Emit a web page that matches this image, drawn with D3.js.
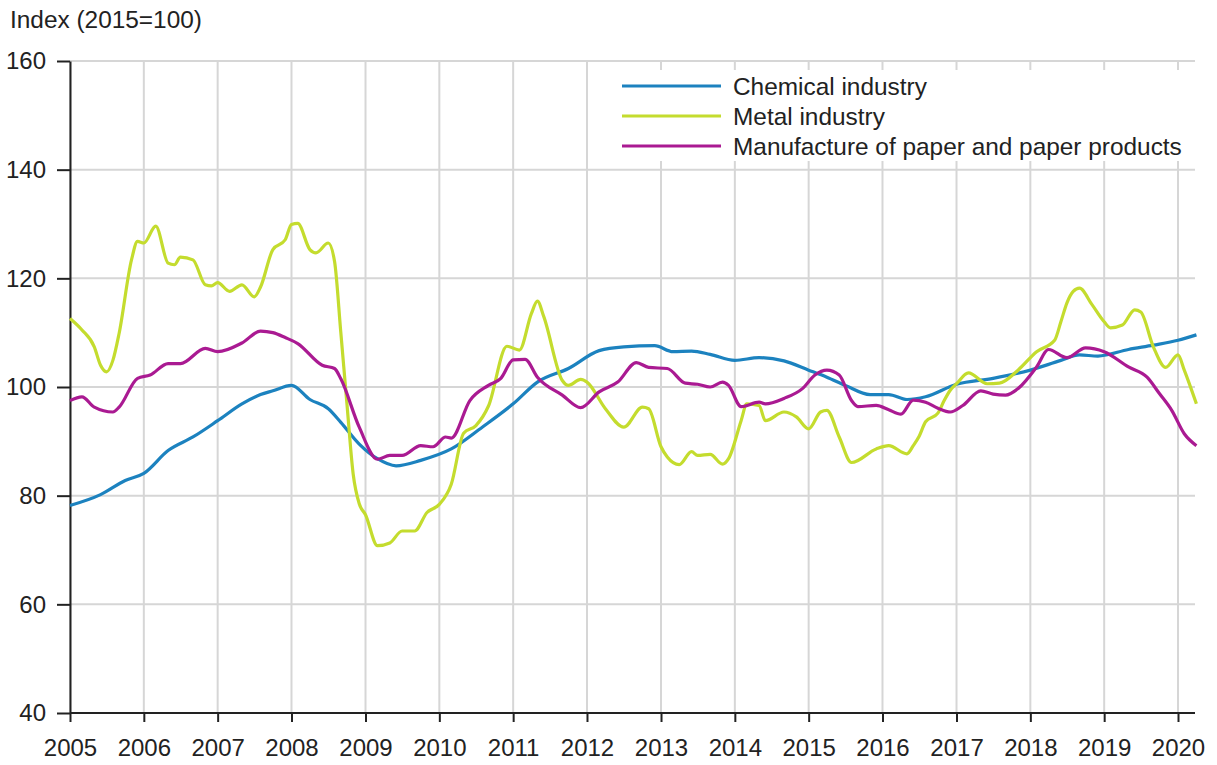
<!DOCTYPE html>
<html>
<head>
<meta charset="utf-8">
<script src="https://cdn.jsdelivr.net/npm/d3@7"></script>
<style>
  body { margin: 0; background: #fff; }
  svg text { font-family: "Liberation Sans", Arial, sans-serif; fill: #222; }
</style>
</head>
<body>
<div id="chart"></div>
<script>
// Index (2015=100), monthly trend series
const chemMonths = ["2005-01","2005-06","2005-10","2006-01","2006-05","2006-09","2007-01","2007-05","2007-08","2007-10",
  "2008-01","2008-04","2008-07","2008-09","2008-12","2009-03","2009-06","2009-10","2010-03","2010-08",
  "2011-01","2011-05","2011-10","2012-03","2012-07","2012-12","2013-03","2013-06","2013-09","2014-01",
  "2014-05","2014-09","2015-01","2015-04","2015-07","2015-11","2016-02","2016-05","2016-08","2017-01",
  "2017-07","2018-01","2018-06","2018-09","2018-12","2019-05","2019-09","2020-01","2020-04"];
const chemValues = [78.2,80.2,82.8,84.1,88.3,90.8,93.8,96.9,98.6,99.3,
  100.3,97.7,96.0,93.5,89.5,86.8,85.5,86.5,88.6,92.6,
  96.9,100.9,103.4,106.7,107.4,107.6,106.5,106.6,106.0,104.9,
  105.4,104.8,103.1,101.8,100.3,98.6,98.6,97.7,98.2,100.5,
  101.6,103.1,104.9,105.9,105.7,106.9,107.7,108.6,109.6];

const metalMonths = ["2005-01","2005-03","2005-05","2005-06","2005-07","2005-08","2005-09","2005-11","2005-12","2006-01",
  "2006-03","2006-05","2006-06","2006-07","2006-09","2006-11","2006-12","2007-01","2007-03","2007-05",
  "2007-07","2007-08","2007-10","2007-12","2008-01","2008-02","2008-04","2008-05","2008-07","2008-08",
  "2008-09","2008-10","2008-11","2008-12","2009-01","2009-03","2009-05","2009-07","2009-09","2009-11",
  "2010-01","2010-03","2010-05","2010-07","2010-09","2010-12","2011-02","2011-04","2011-05","2011-06",
  "2011-09","2011-10","2011-12","2012-01","2012-04","2012-07","2012-10","2012-11","2013-01","2013-02",
  "2013-04","2013-06","2013-07","2013-09","2013-11","2013-12","2014-02","2014-03","2014-05","2014-06",
  "2014-09","2014-11","2015-01","2015-03","2015-04","2015-06","2015-08","2015-12","2016-02","2016-05",
  "2016-06","2016-07","2016-08","2016-10","2016-11","2016-12","2017-01","2017-03","2017-06","2017-08",
  "2017-11","2018-02","2018-05","2018-06","2018-07","2018-08","2018-09","2018-11","2019-01","2019-02",
  "2019-04","2019-06","2019-07","2019-09","2019-11","2020-01","2020-02","2020-04"];
const metalValues = [112.6,110.5,107.4,104.0,102.8,104.9,109.9,123.4,126.8,126.5,
  129.6,122.8,122.5,123.9,123.4,118.8,118.6,119.2,117.6,118.8,
  116.6,118.4,125.3,127.1,129.9,130.1,125.3,124.7,126.5,123.1,
  110.0,97.0,84.0,78.5,76.5,70.8,71.3,73.5,73.5,76.9,
  78.4,82.1,91.5,92.9,96.5,107.5,106.8,113.5,115.8,113.0,
  101.2,100.3,101.4,100.9,96.0,92.6,96.3,96.0,89.0,87.1,
  85.7,88.1,87.4,87.6,85.8,86.8,93.8,96.9,96.6,93.8,
  95.4,94.5,92.3,95.4,95.7,90.8,86.1,88.6,89.2,87.7,
  89.2,91.0,93.6,95.2,97.5,99.4,100.6,102.6,100.6,100.7,
  103.1,106.5,108.6,112.0,115.5,117.6,118.2,115.2,112.0,110.9,
  111.4,114.2,113.8,107.4,103.6,105.9,103.1,96.9];

const paperMonths = ["2005-01","2005-03","2005-05","2005-08","2005-09","2005-12","2006-02","2006-05","2006-07","2006-11",
  "2007-01","2007-05","2007-08","2007-10","2007-12","2008-02","2008-06","2008-08","2008-09","2008-12",
  "2009-03","2009-05","2009-07","2009-10","2009-12","2010-02","2010-03","2010-06","2010-09","2010-11",
  "2011-01","2011-03","2011-05","2011-09","2011-12","2012-03","2012-06","2012-09","2012-11","2013-02",
  "2013-05","2013-07","2013-09","2013-11","2013-12","2014-02","2014-05","2014-06","2014-09","2014-12",
  "2015-02","2015-04","2015-06","2015-08","2015-09","2015-12","2016-02","2016-04","2016-06","2016-08",
  "2016-10","2016-12","2017-02","2017-05","2017-07","2017-09","2017-11","2018-02","2018-04","2018-07",
  "2018-10","2019-01","2019-05","2019-08","2019-10","2019-12","2020-02","2020-04"];
const paperValues = [97.5,98.2,96.3,95.4,96.3,101.6,102.2,104.3,104.3,107.1,
  106.5,108.1,110.3,110.0,109.1,108.0,104.0,103.4,101.5,92.6,
  86.7,87.4,87.4,89.2,89.0,90.8,90.6,97.5,100.3,101.6,
  105.0,105.1,101.8,98.5,96.2,99.1,100.9,104.5,103.6,103.4,
  100.7,100.5,100.0,100.9,100.3,96.4,97.2,96.9,97.9,99.7,
  102.2,103.1,102.2,97.5,96.4,96.6,95.8,95.0,97.6,97.2,
  96.1,95.4,96.6,99.3,98.7,98.5,99.7,103.7,106.9,105.4,
  107.2,106.5,103.7,101.8,98.8,95.7,91.4,89.2];

const seriesNames = ["Chemical industry", "Metal industry", "Manufacture of paper and paper products"];
const seriesColors = ["#1c82bf", "#c4dc2e", "#aa1a92"];
const yTicks = [40, 60, 80, 100, 120, 140, 160];
const xTickYears = d3.range(2005, 2021);

const width = 1217, height = 765;
const plotLeft = 70, plotRight = 1195, plotTop = 61, plotBottom = 713;
const parseMonth = d3.timeParse("%Y-%m");

const series = [
  {name: seriesNames[0], color: seriesColors[0], months: chemMonths, values: chemValues},
  {name: seriesNames[1], color: seriesColors[1], months: metalMonths, values: metalValues},
  {name: seriesNames[2], color: seriesColors[2], months: paperMonths, values: paperValues}
].map(s => ({...s, points: s.months.map((m, i) => ({date: parseMonth(m), value: s.values[i]}))}));

const x = d3.scaleTime()
  .domain([new Date(2005, 0, 1), new Date(2020, 0, 1)])
  .range([plotLeft, 1178]);
const y = d3.scaleLinear().domain([40, 160]).range([plotBottom, plotTop]);

const svg = d3.select("#chart").append("svg")
  .attr("width", width)
  .attr("height", height);

svg.append("rect").attr("width", width).attr("height", height).attr("fill", "#fff");

// gridlines
svg.append("g").selectAll("line")
  .data(xTickYears)
  .join("line")
  .attr("x1", d => x(new Date(d, 0, 1))).attr("x2", d => x(new Date(d, 0, 1)))
  .attr("y1", plotTop).attr("y2", plotBottom)
  .attr("stroke", "#d6d6d6").attr("stroke-width", 2);

svg.append("g").selectAll("line")
  .data(yTicks)
  .join("line")
  .attr("x1", plotLeft).attr("x2", plotRight)
  .attr("y1", d => y(d)).attr("y2", d => y(d))
  .attr("stroke", "#d6d6d6").attr("stroke-width", 2);

// axes
const yAxis = svg.append("g")
  .attr("transform", `translate(${plotLeft},0)`)
  .call(d3.axisLeft(y).tickValues(yTicks).tickSize(13).tickPadding(11).tickSizeOuter(0));

const xAxis = svg.append("g")
  .attr("transform", `translate(0,${plotBottom})`)
  .call(d3.axisBottom(x).tickValues(xTickYears.map(d => new Date(d, 0, 1)))
    .tickFormat(d3.timeFormat("%Y")).tickSize(9).tickPadding(17).tickSizeOuter(0));

xAxis.select(".domain").attr("d", `M${plotLeft},0H${plotRight}`);
[yAxis, xAxis].forEach(g => {
  g.select(".domain").attr("stroke", "#222").attr("stroke-width", 2);
  g.selectAll(".tick line").attr("stroke", "#222").attr("stroke-width", 2);
  g.selectAll(".tick text").attr("font-size", 24).attr("font-family", null).attr("fill", "#222");
});

// lines
const line = d3.line()
  .x(d => x(d.date))
  .y(d => y(d.value))
  .curve(d3.curveMonotoneX);

svg.append("g").selectAll("path")
  .data(series)
  .join("path")
  .attr("d", d => line(d.points))
  .attr("fill", "none")
  .attr("stroke", d => d.color)
  .attr("stroke-width", 3.2)
  .attr("stroke-linejoin", "round");

// legend (white box covers the gridlines behind it)
const legend = svg.append("g");
legend.append("rect")
  .attr("x", 612).attr("y", 70).attr("width", plotRight - 612).attr("height", 91)
  .attr("fill", "#fff");
const item = legend.selectAll("g.item")
  .data(series)
  .join("g")
  .attr("class", "item")
  .attr("transform", (d, i) => `translate(622,${86 + i * 30})`);
item.append("line")
  .attr("x1", 0).attr("x2", 99)
  .attr("stroke", d => d.color).attr("stroke-width", 3.2);
item.append("text")
  .attr("x", 111).attr("dy", "0.35em")
  .attr("font-size", 24.4)
  .text(d => d.name);

// axis title
svg.append("text")
  .attr("x", 10).attr("y", 28)
  .attr("font-size", 24.4)
  .text("Index (2015=100)");
</script>
</body>
</html>
